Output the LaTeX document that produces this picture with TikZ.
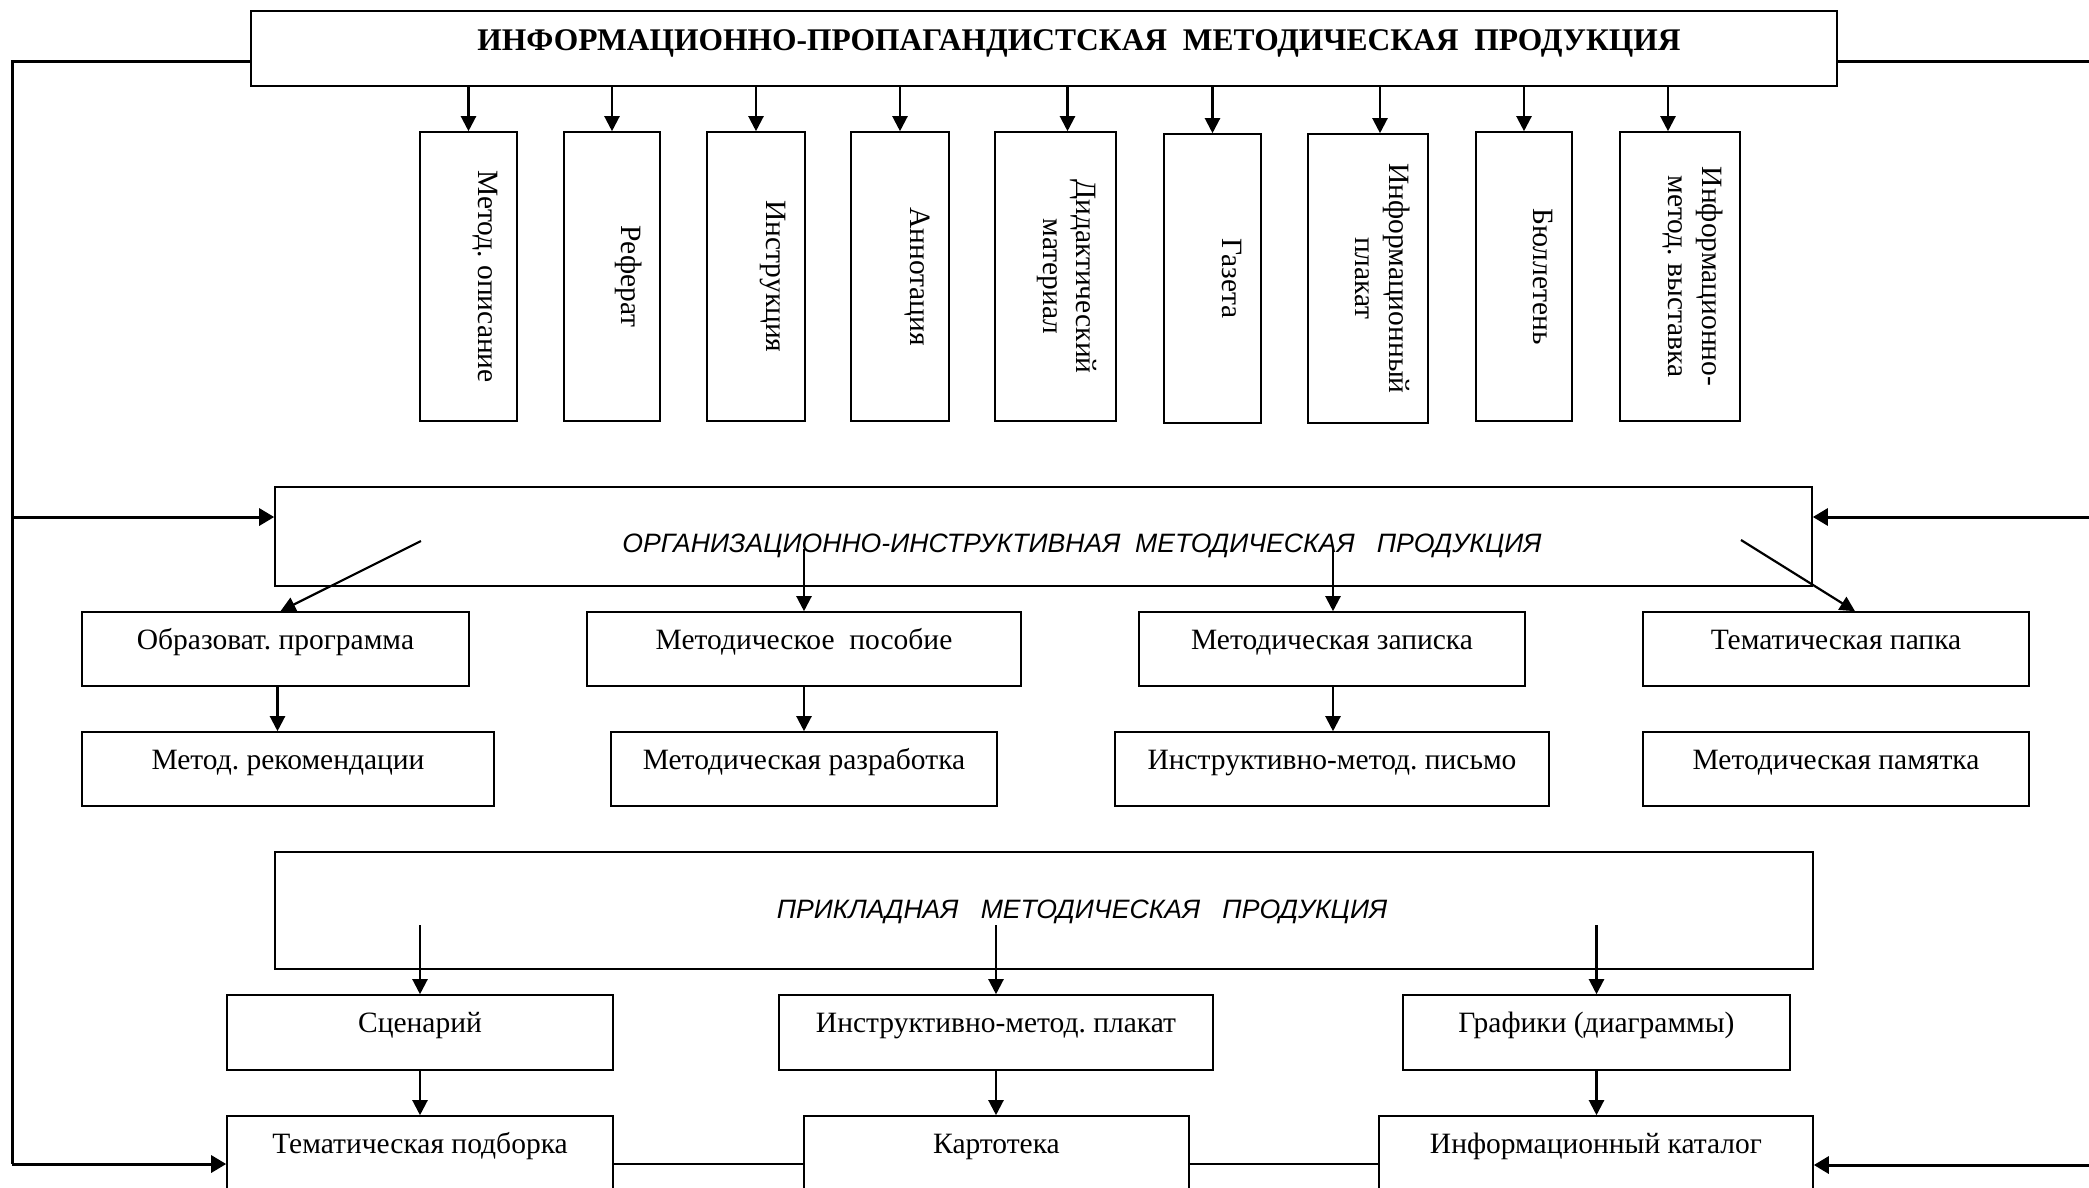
\documentclass[tikz,border=0pt]{standalone}
\usepackage{fontspec}
\setmainfont{Liberation Serif}
\newfontfamily\sansfnt{Liberation Sans}
\usetikzlibrary{arrows.meta,calc,fit}
\frenchspacing
\begin{document}
\frenchspacing
\begin{tikzpicture}[x=1pt,y=-1pt,
  box/.style={draw, line width=1.6pt, inner sep=0pt, rectangle},
  txt/.style={inner sep=0pt, anchor=base, font=\fontsize{29.5}{34}\selectfont\frenchspacing},
  vtxt/.style={inner sep=0pt, anchor=base, rotate=-90, font=\fontsize{29.5}{34}\selectfont\frenchspacing},
  ttl/.style={inner sep=0pt, anchor=base, font=\fontsize{26.6}{30}\selectfont\sansfnt\itshape},
  arr/.style={line width=2.2pt, -{Triangle[length=15pt,width=15pt]}},
  bigline/.style={line width=3pt},
  bigarr/.style={line width=3pt, -{Triangle[length=15pt,width=17pt]}},
]
\clip (0,0) rectangle (2089,1187);
\fill[white] (0,0) rectangle (2089,1187);
% top box
\node[box, fit={(251,11)(1837,86)}] (top) {};
\node[inner sep=0pt, anchor=base, font=\fontsize{31.5}{36}\selectfont\bfseries] (toptxt) at (1079,50) {ИНФОРМАЦИОННО-ПРОПАГАНДИСТСКАЯ\ \ МЕТОДИЧЕСКАЯ\ \ ПРОДУКЦИЯ};
% vertical boxes
\node[box, fit={(420,132)(517,421)}] (v1) {};
\node[box, fit={(564,132)(660,421)}] (v2) {};
\node[box, fit={(707,132)(805,421)}] (v3) {};
\node[box, fit={(851,132)(949,421)}] (v4) {};
\node[box, fit={(995,132)(1116,421)}] (v5) {};
\node[box, fit={(1164,134)(1261,423)}] (v6) {};
\node[box, fit={(1308,134)(1428,423)}] (v7) {};
\node[box, fit={(1476,132)(1572,421)}] (v8) {};
\node[box, fit={(1620,132)(1740,421)}] (v9) {};
\node[vtxt] (t1) at ($(v1.east)+(-39,0)$) {Метод. описание};
\node[vtxt] (t2) at ($(v2.east)+(-39,0)$) {Реферат};
\node[vtxt] (t3) at ($(v3.east)+(-39,0)$) {Инструкция};
\node[vtxt] (t4) at ($(v4.east)+(-39,0)$) {Аннотация};
\node[vtxt] (t5a) at ($(v5.east)+(-40,0)$) {Дидактический};
\node[vtxt] (t5b) at ($(v5.east)+(-73,0)$) {материал};
\node[vtxt] (t6) at ($(v6.east)+(-39,0)$) {Газета};
\node[vtxt] (t7a) at ($(v7.east)+(-39,0)$) {Информационный};
\node[vtxt] (t7b) at ($(v7.east)+(-73,0)$) {плакат};
\node[vtxt] (t8) at ($(v8.east)+(-39,0)$) {Бюллетень};
\node[vtxt] (t9a) at ($(v9.east)+(-38,0)$) {Информационно-};
\node[vtxt] (t9b) at ($(v9.east)+(-72,0)$) {метод. выставка};
\foreach \b/\dx in {v1/0,v2/0,v3/0,v4/0,v5/12,v6/0,v7/12,v8/0,v9/-12}
  \draw[arr] ([xshift=\dx pt]\b.north |- top.south) -- ([xshift=\dx pt]\b.north);
% organisational box
\node[box, fit={(275,487)(1812,586)}] (org) {};
\node[ttl] (orgtxt) at (1082,552) {ОРГАНИЗАЦИОННО-ИНСТРУКТИВНАЯ\ \ МЕТОДИЧЕСКАЯ\ \ \ ПРОДУКЦИЯ};
\node[box, fit={(82,612)(469,686)}] (obr) {};
\node[box, fit={(587,612)(1021,686)}] (mpos) {};
\node[box, fit={(1139,612)(1525,686)}] (mzap) {};
\node[box, fit={(1643,612)(2029,686)}] (tpap) {};
\node[box, fit={(82,732)(494,806)}] (mrek) {};
\node[box, fit={(611,732)(997,806)}] (mraz) {};
\node[box, fit={(1115,732)(1549,806)}] (ipis) {};
\node[box, fit={(1643,732)(2029,806)}] (mpam) {};
\node[txt] at ($(obr.north)+(0,38)$) {Образоват. программа};
\node[txt] at ($(mpos.north)+(0,38)$) {Методическое\ \ пособие};
\node[txt] at ($(mzap.north)+(0,38)$) {Методическая записка};
\node[txt] at ($(tpap.north)+(0,38)$) {Тематическая папка};
\node[txt] at ($(mrek.north)+(0,38)$) {Метод. рекомендации};
\node[txt] at ($(mraz.north)+(0,38)$) {Методическая разработка};
\node[txt] at ($(ipis.north)+(0,38)$) {Инструктивно-метод. письмо};
\node[txt] at ($(mpam.north)+(0,38)$) {Методическая памятка};
\coordinate (od1) at (421,541);
\coordinate (od2) at (1741,540);
\draw[arr] (od1) -- ([xshift=5pt]obr.north);
\draw[arr] (mpos.north |- 0,549) -- (mpos.north);
\draw[arr] ([xshift=1pt]mzap.north |- 0,549) -- ([xshift=1pt]mzap.north);
\draw[arr] (od2) -- ([xshift=19pt]tpap.north);
\draw[arr] ([xshift=2pt]obr.south) -- ([xshift=2pt]obr.south |- mrek.north);
\draw[arr] (mpos.south) -- (mpos.south |- mraz.north);
\draw[arr] ([xshift=1pt]mzap.south) -- ([xshift=1pt]mzap.south |- ipis.north);
% applied box
\node[box, fit={(275,852)(1813,969)}] (prik) {};
\node[ttl] (priktxt) at (1082,918) {ПРИКЛАДНАЯ\ \ \ МЕТОДИЧЕСКАЯ\ \ \ ПРОДУКЦИЯ};
\node[box, fit={(227,995)(613,1070)}] (scen) {};
\node[box, fit={(779,995)(1213,1070)}] (ipla) {};
\node[box, fit={(1403,995)(1790,1070)}] (graf) {};
\node[box, fit={(227,1116)(613,1192)}] (tpod) {};
\node[box, fit={(804,1116)(1189,1192)}] (kart) {};
\node[box, fit={(1379,1116)(1813,1192)}] (ikat) {};
\node[txt] at ($(scen.north)+(0,38)$) {Сценарий};
\node[txt] at ($(ipla.north)+(0,38)$) {Инструктивно-метод. плакат};
\node[txt] at ($(graf.north)+(0,38)$) {Графики (диаграммы)};
\node[txt] at ($(tpod.north)+(0,38)$) {Тематическая подборка};
\node[txt] at ($(kart.north)+(0,38)$) {Картотека};
\node[txt] at ($(ikat.north)+(0,38)$) {Информационный каталог};
\draw[arr] (scen.north |- 0,925) -- (scen.north);
\draw[arr] (ipla.north |- 0,925) -- (ipla.north);
\draw[arr] (graf.north |- 0,925) -- (graf.north);
\draw[arr] (scen.south) -- (scen.south |- tpod.north);
\draw[arr] (ipla.south) -- (ipla.south |- kart.north);
\draw[arr] (graf.south) -- (graf.south |- ikat.north);
\draw[line width=1.6pt] (tpod.east |- 0,1164) -- (kart.west |- 0,1164);
\draw[line width=1.6pt] (kart.east |- 0,1164) -- (ikat.west |- 0,1164);
% outer connectors
\coordinate (L1) at (12,61);
\coordinate (Lm) at (12,517);
\coordinate (L2) at (12,1164);
\coordinate (R1) at (2095,61);
\coordinate (Rm) at (2095,517);
\coordinate (R2) at (2095,1165);
\draw[bigline] (top.west |- L1) -- (L1) -- (L2);
\draw[bigarr] (Lm) -- (org.west |- Lm);
\draw[bigarr] (L2) -- (tpod.west |- L2);
\draw[bigline] (top.east |- R1) -- (R1);
\draw[bigarr] (Rm) -- (org.east |- Rm);
\draw[bigarr] (R2) -- (ikat.east |- R2);
\end{tikzpicture}
\end{document}
